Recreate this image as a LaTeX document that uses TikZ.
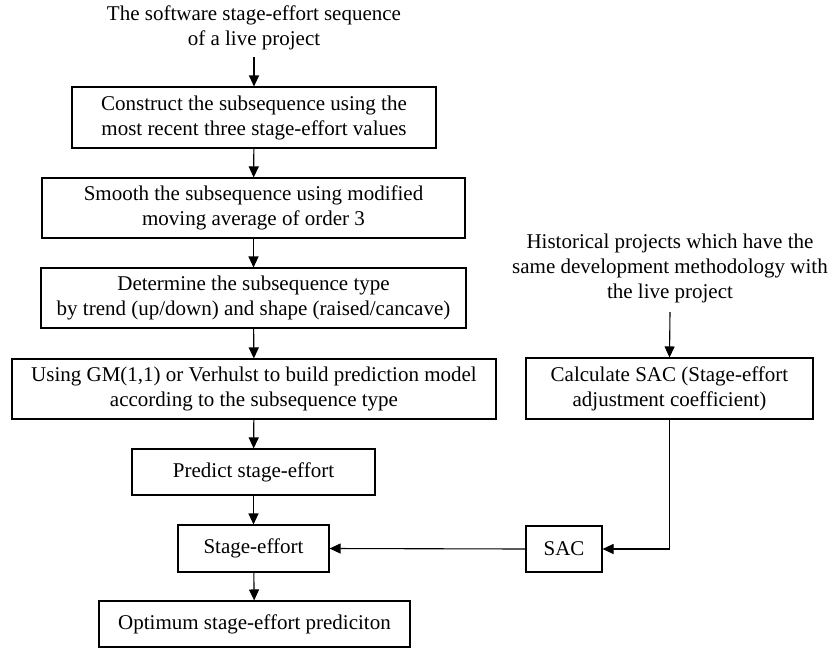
\documentclass[tikz,border=0pt]{standalone}
\usepackage{fontspec}
\setmainfont{Liberation Serif}
\usetikzlibrary{arrows.meta}
\begin{document}
\begin{tikzpicture}[x=1pt,y=-1pt,
  every node/.style={font=\fontsize{21}{25}\selectfont, align=center, inner sep=0pt},
  box/.style={draw, line width=1.1pt, minimum height=60pt},
  arr/.style={line width=1.1pt, -{Triangle[length=11pt,width=10pt]}},
  ln/.style={line width=1.1pt}]
\useasboundingbox (0,0) rectangle (831,649);
% left column
\node (src) at (254,28) [minimum height=58pt] {The software stage-effort sequence\\of a live project};
\node[box, minimum width=364pt, minimum height=61pt] (b1) at (254,117.5) {Construct the subsequence using the\\most recent three stage-effort values};
\node[box, minimum width=423pt] (b2) at (253.5,208) {Smooth the subsequence using modified\\moving average of order 3};
\node[box, minimum width=425pt] (b3) at (253.5,298) {Determine the subsequence type\\by trend (up/down) and shape (raised/cancave)};
\node[box, minimum width=484pt] (b4) at (254,389) {Using GM(1,1) or Verhulst to build prediction model\\according to the subsequence type};
\node[box, minimum width=243pt, minimum height=46pt] (b5) at (253.5,472) {Predict stage-effort};
\node[box, minimum width=151pt, minimum height=47pt] (b6) at (253.5,548.5) {Stage-effort};
\node[box, minimum width=311pt, minimum height=46pt] (b7) at (254.5,624) {Optimum stage-effort prediciton};
% right column
\node (hist) at (670,268) [minimum height=88pt] {Historical projects which have the\\same development methodology with\\the live project};
\node[box, minimum width=287pt, minimum height=61pt] (sac1) at (669.5,388.5) {Calculate SAC (Stage-effort\\adjustment coefficient)};
\node[box, minimum width=76pt, minimum height=46pt] (sac2) at (564,549) {SAC};
\coordinate (corner) at (sac1.south |- sac2.east);
% connectors
\draw[arr] (src.south) -- (b1.north);
\draw[arr] (b1) -- (b2);
\draw[arr] (b2) -- (b3);
\draw[arr] (b3) -- (b4);
\draw[arr] (b4) -- (b5);
\draw[arr] (b5) -- (b6);
\draw[arr] (b6) -- (b7);
\draw[arr] (hist.south) -- (sac1.north);
\draw[arr] (sac1.south) -- (corner) -- (sac2.east);
\draw[arr] (sac2.west) -- (b6.east);
\end{tikzpicture}
\end{document}
